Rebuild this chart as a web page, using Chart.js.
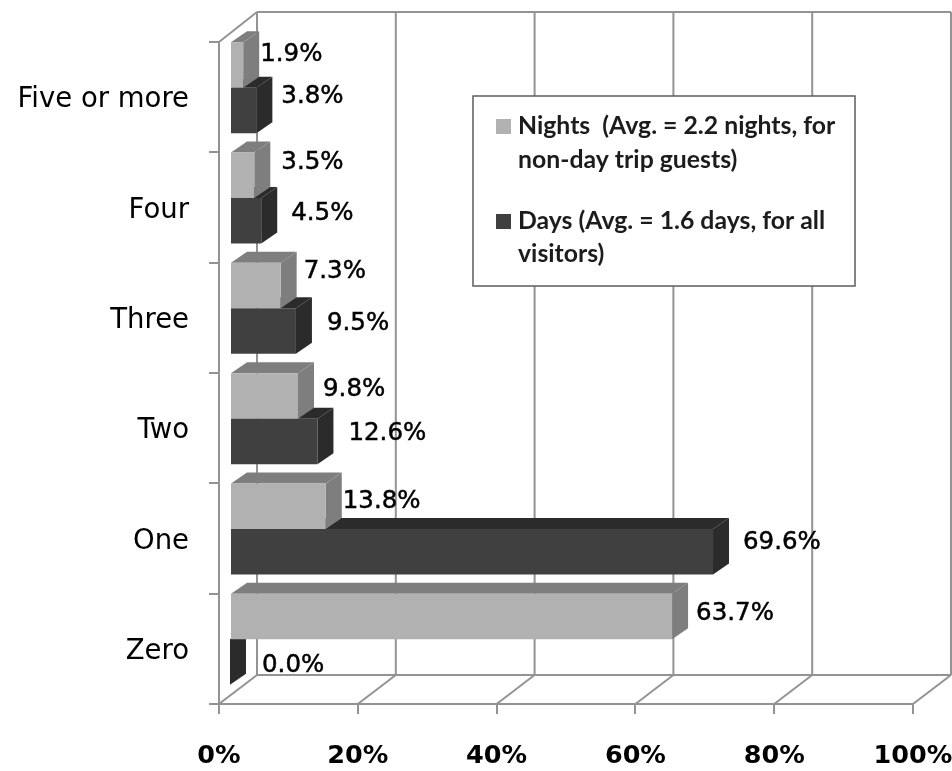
<!DOCTYPE html>
<html>
<head>
<meta charset="utf-8">
<title>Length of stay</title>
<script src="https://cdn.jsdelivr.net/npm/chart.js@4"></script>
<style>
    html, body { margin: 0; padding: 0; background: #fff; }
    canvas { display: block; }
</style>
</head>
<body>
<canvas id="stayChart" width="952" height="771"></canvas>
<script>
// Data
const categories = ['Five or more', 'Four', 'Three', 'Two', 'One', 'Zero'];
const nights = [1.9, 3.5, 7.3, 9.8, 13.8, 63.7];
const days = [3.8, 4.5, 9.5, 12.6, 69.6, 0.0];
const percentTicks = [0, 20, 40, 60, 80, 100];
const legendNights = ['Nights  (Avg. = 2.2 nights, for', 'non-day trip guests)'];
const legendDays = ['Days (Avg. = 1.6 days, for all', 'visitors)'];

// Colours
const GRID = '#939393';
const NIGHTS_FRONT = '#b1b1b1';
const NIGHTS_SHADE = '#7e7e7e';
const DAYS_FRONT = '#404040';
const DAYS_SHADE = '#2b2b2b';

// Fake perspective: the room is 38/29 deep, bars sit part way in and are 16/11 deep
const ROOM_DX = 38, ROOM_DY = 29;
const BAR_SHIFT_X = 11, BAR_SHIFT_Y = 9.5;
const BAR_DX = 16, BAR_DY = 11;

// Hand placed value labels, per series, from the bar end
const nightsNudge = [[1, -10], [11, -13], [7, -13.5], [9, -6], [1, -4.5], [8, -3]];
const daysNudge = [[9, -13.5], [14, -7], [15, -7], [15, -7.5], [14, -9], [16, 4]];

function line(ctx, x1, y1, x2, y2) {
    ctx.beginPath();
    ctx.moveTo(x1, y1);
    ctx.lineTo(x2, y2);
    ctx.stroke();
}

function poly(ctx, color, pts) {
    ctx.fillStyle = color;
    ctx.beginPath();
    ctx.moveTo(pts[0][0], pts[0][1]);
    pts.slice(1).forEach(p => ctx.lineTo(p[0], p[1]));
    ctx.closePath();
    ctx.fill();
}

// Back wall, left wall and floor behind the bars
const roomPlugin = {
    id: 'room',
    beforeDatasetsDraw(chart) {
        const { ctx, chartArea: a, scales } = chart;
        ctx.save();
        ctx.strokeStyle = GRID;
        ctx.lineWidth = 2;
        percentTicks.forEach(t => {
            const x = scales.x.getPixelForValue(t);
            line(ctx, x, a.bottom, x + ROOM_DX, a.bottom - ROOM_DY);
            line(ctx, x + ROOM_DX, a.bottom - ROOM_DY, x + ROOM_DX, a.top - ROOM_DY - 1);
        });
        line(ctx, a.left, a.top, a.left + ROOM_DX, a.top - ROOM_DY - 1);
        line(ctx, a.left + ROOM_DX, a.top - ROOM_DY - 1, a.right + ROOM_DX, a.top - ROOM_DY - 1);
        line(ctx, a.left + ROOM_DX, a.bottom - ROOM_DY, a.right + ROOM_DX, a.bottom - ROOM_DY);
        ctx.restore();
    }
};

// Shifts the bars into the room and puts the side and top faces under each series
const boxPlugin = {
    id: 'box',
    beforeDatasetsDraw(chart) {
        chart.ctx.save();
        chart.ctx.translate(BAR_SHIFT_X, -BAR_SHIFT_Y);
    },
    beforeDatasetDraw(chart, args) {
        const ctx = chart.ctx;
        const shade = args.index === 0 ? NIGHTS_SHADE : DAYS_SHADE;
        args.meta.data.forEach(bar => {
            const top = bar.y - bar.height / 2;
            const bottom = bar.y + bar.height / 2;
            poly(ctx, shade, [[bar.base, top], [bar.x, top], [bar.x + BAR_DX, top - BAR_DY], [bar.base + BAR_DX, top - BAR_DY]]);
            poly(ctx, shade, [[bar.x, top], [bar.x + BAR_DX, top - BAR_DY], [bar.x + BAR_DX, bottom - BAR_DY], [bar.x, bottom]]);
        });
    },
    afterDatasetsDraw(chart) {
        chart.ctx.restore();
    }
};

const valueLabelPlugin = {
    id: 'valueLabels',
    afterDatasetsDraw(chart) {
        const ctx = chart.ctx;
        ctx.save();
        ctx.fillStyle = '#000';
        ctx.strokeStyle = '#000';
        ctx.lineWidth = 0.5;
        ctx.font = '24.5px "DejaVu Sans"';
        ctx.textAlign = 'left';
        ctx.textBaseline = 'middle';
        [nightsNudge, daysNudge].forEach((nudge, d) => {
            chart.getDatasetMeta(d).data.forEach((bar, i) => {
                const value = chart.data.datasets[d].data[i];
                const x = bar.x + BAR_SHIFT_X + BAR_DX + nudge[i][0];
                const y = bar.y - BAR_SHIFT_Y + nudge[i][1];
                ctx.fillText(value.toFixed(1) + '%', x, y);
                ctx.strokeText(value.toFixed(1) + '%', x, y);
            });
        });
        ctx.restore();
    }
};

// Boxed legend with wrapped entries
const legendBoxPlugin = {
    id: 'legendBox',
    afterDraw(chart) {
        const ctx = chart.ctx;
        ctx.save();
        ctx.fillStyle = '#fff';
        ctx.fillRect(473, 96, 382, 190);
        ctx.strokeStyle = '#5c5c5c';
        ctx.lineWidth = 1.5;
        ctx.strokeRect(473, 96, 382, 190);

        ctx.fillStyle = NIGHTS_FRONT;
        ctx.fillRect(496, 119, 15, 15);
        ctx.fillStyle = DAYS_FRONT;
        ctx.fillRect(496, 214, 15, 15);

        ctx.fillStyle = '#1c1c1c';
        ctx.font = 'bold 24.8px Lato';
        ctx.textAlign = 'left';
        ctx.textBaseline = 'middle';
        ctx.fillText(legendNights[0], 518, 126);
        ctx.fillText(legendNights[1], 518, 160);
        ctx.fillText(legendDays[0], 518, 221);
        ctx.fillText(legendDays[1], 518, 254);
        ctx.restore();
    }
};

new Chart(document.getElementById('stayChart').getContext('2d'), {
    type: 'bar',
    data: {
        labels: categories,
        datasets: [
            { label: 'Nights', data: nights, backgroundColor: NIGHTS_FRONT, categoryPercentage: 0.825, barPercentage: 1, clip: false },
            { label: 'Days', data: days, backgroundColor: DAYS_FRONT, categoryPercentage: 0.825, barPercentage: 1, clip: false }
        ]
    },
    options: {
        indexAxis: 'y',
        responsive: false,
        animation: false,
        layout: { padding: { top: 42, right: 39, left: 0, bottom: 0 } },
        plugins: {
            legend: { display: false },
            tooltip: { enabled: false }
        },
        scales: {
            x: {
                min: 0,
                max: 100,
                afterFit: scale => {
                    scale.height = 67;
                    scale.paddingLeft = 0;
                    scale.paddingRight = 0;
                },
                afterBuildTicks: scale => { scale.ticks = percentTicks.map(v => ({ value: v })); },
                grid: { drawOnChartArea: false, color: GRID, lineWidth: 2, tickLength: 10 },
                border: { color: GRID, width: 2 },
                ticks: {
                    callback: v => v + '%',
                    color: '#000',
                    font: { family: '"DejaVu Sans"', size: 25.5, weight: 'bold' },
                    maxRotation: 0,
                    autoSkip: false,
                    padding: 27
                }
            },
            y: {
                afterFit: scale => { scale.width = 219; },
                grid: { drawOnChartArea: false, color: GRID, lineWidth: 2, tickLength: 10 },
                border: { color: GRID, width: 2 },
                ticks: {
                    color: '#000',
                    font: { family: '"DejaVu Sans"', size: 27.5 },
                    padding: 20,
                    labelOffset: 3
                }
            }
        }
    },
    plugins: [roomPlugin, boxPlugin, valueLabelPlugin, legendBoxPlugin]
});
</script>
</body>
</html>
